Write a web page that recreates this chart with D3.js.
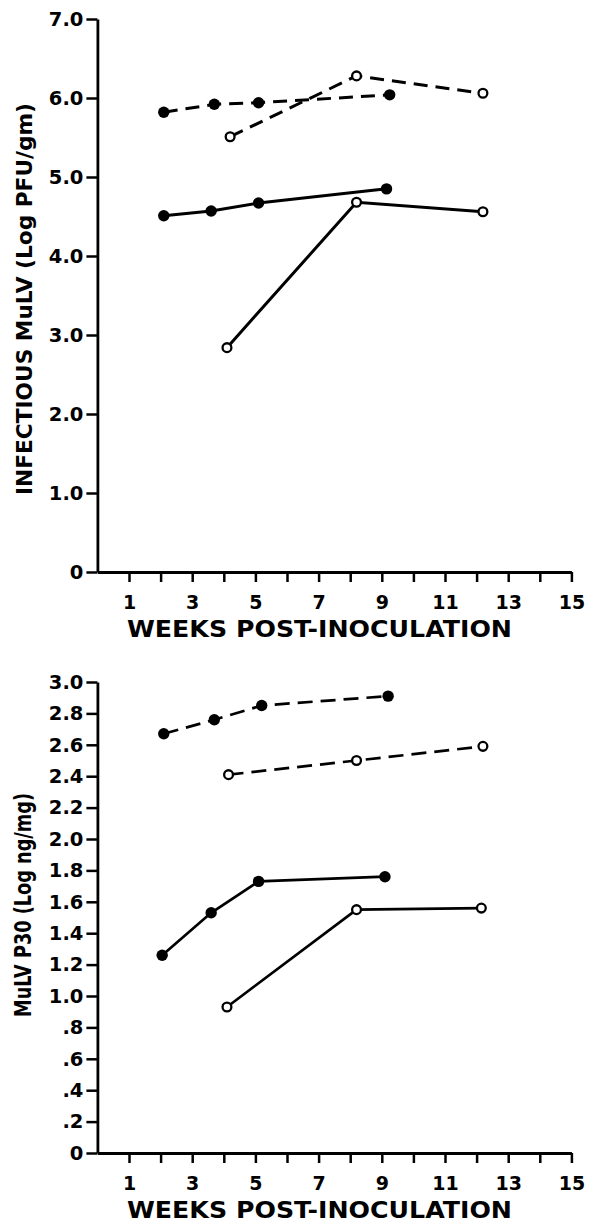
<!DOCTYPE html>
<html>
<head>
<meta charset="utf-8">
<script src="https://cdn.jsdelivr.net/npm/d3@7"></script>
<style>
  html, body { margin: 0; padding: 0; background: #fff; }
  svg { display: block; }
  text { font-family: "DejaVu Sans", "Liberation Sans", sans-serif; font-weight: bold; fill: #000; }
</style>
</head>
<body>
<svg id="chart" width="594" height="1226"></svg>
<script>
// ---------- DATA ----------
const xTickValues = [1,2,3,4,5,6,7,8,9,10,11,12,13,14,15];
const xTickLabels = ["1","","3","","5","","7","","9","","11","","13","","15"];
const xTitle = "WEEKS POST-INOCULATION";

// Top panel: infectious MuLV
const infTitle = "INFECTIOUS MuLV (Log PFU/gm)";
const infTickValues = [0,1,2,3,4,5,6,7];
const infTickLabels = ["0","1.0","2.0","3.0","4.0","5.0","6.0","7.0"];
const infFilledDashedWeeks = [2.1, 3.7, 5.1, 9.25];
const infFilledDashedVals  = [5.82, 5.92, 5.94, 6.04];
const infOpenDashedWeeks   = [4.2, 8.2, 12.2];
const infOpenDashedVals    = [5.51, 6.28, 6.06];
const infFilledSolidWeeks  = [2.1, 3.6, 5.1, 9.15];
const infFilledSolidVals   = [4.51, 4.57, 4.67, 4.85];
const infOpenSolidWeeks    = [4.1, 8.2, 12.2];
const infOpenSolidVals     = [2.84, 4.68, 4.56];

// Bottom panel: MuLV P30
const p30Title = "MuLV P30 (Log ng/mg)";
const p30TickValues = [0,0.2,0.4,0.6,0.8,1.0,1.2,1.4,1.6,1.8,2.0,2.2,2.4,2.6,2.8,3.0];
const p30TickLabels = ["0",".2",".4",".6",".8","1.0","1.2","1.4","1.6","1.8","2.0","2.2","2.4","2.6","2.8","3.0"];
const p30FilledDashedWeeks = [2.1, 3.7, 5.2, 9.2];
const p30FilledDashedVals  = [2.67, 2.76, 2.85, 2.91];
const p30OpenDashedWeeks   = [4.15, 8.2, 12.2];
const p30OpenDashedVals    = [2.41, 2.50, 2.59];
const p30FilledSolidWeeks  = [2.05, 3.6, 5.1, 9.1];
const p30FilledSolidVals   = [1.26, 1.53, 1.73, 1.76];
const p30OpenSolidWeeks    = [4.1, 8.2, 12.15];
const p30OpenSolidVals     = [0.93, 1.55, 1.56];

// ---------- DRAW ----------
const svg = d3.select("#chart");

function panel(cfg) {
  const x = d3.scaleLinear().domain([0, 15]).range([97.4, 571.4]);
  const y = d3.scaleLinear().domain(cfg.yDomain).range(cfg.yRange);
  const g = svg.append("g");

  // Y axis
  const ya = g.append("g").attr("transform", `translate(${x(0)},0)`)
    .call(d3.axisLeft(y).tickValues(cfg.tickValues)
      .tickFormat((d, i) => cfg.tickLabels[i]).tickSize(11).tickSizeOuter(0).tickPadding(3));
  ya.select(".domain").attr("stroke", "#000").attr("stroke-width", 2.8);
  ya.selectAll(".tick line").attr("stroke", "#000").attr("stroke-width", 2.5);
  ya.selectAll(".tick text").style("font-size", "19.5px").attr("fill", "#000");

  // X axis
  const xa = g.append("g").attr("transform", `translate(0,${y(0)})`)
    .call(d3.axisBottom(x).tickValues(xTickValues)
      .tickFormat((d, i) => xTickLabels[i]).tickSize(10).tickSizeOuter(0));
  xa.select(".domain").attr("stroke", "#000").attr("stroke-width", 2.8);
  xa.selectAll(".tick line").attr("stroke", "#000").attr("stroke-width", 2.5);
  xa.selectAll(".tick text").style("font-size", "19px").attr("fill", "#000")
    .attr("y", 37).attr("dy", null);

  // X title
  g.append("text").attr("x", 319.5).attr("y", y(0) + 65)
    .attr("text-anchor", "middle").style("font-size", "23px")
    .attr("textLength", 385).attr("lengthAdjust", "spacingAndGlyphs")
    .text(xTitle);

  // Y title
  g.append("text")
    .attr("transform", `translate(${cfg.titleX},${cfg.titleY}) rotate(-90)`)
    .attr("text-anchor", "middle").style("font-size", cfg.titleSize + "px")
    .attr("textLength", cfg.titleLen).attr("lengthAdjust", "spacingAndGlyphs")
    .text(cfg.title);

  const line = d3.line().x(d => x(d[0])).y(d => y(d[1]));
  cfg.series.forEach(s => {
    const pts = s.weeks.map((w, i) => [w, s.vals[i]]);
    g.append("path").datum(pts).attr("d", line)
      .attr("fill", "none").attr("stroke", "#000")
      .attr("stroke-width", cfg.lineWidth)
      .attr("stroke-dasharray", s.dashed ? cfg.dash : null);
  });
  cfg.series.forEach(s => {
    const pts = s.weeks.map((w, i) => [w, s.vals[i]]);
    g.selectAll(null).data(pts).enter().append("circle")
      .attr("cx", d => x(d[0])).attr("cy", d => y(d[1]))
      .attr("r", s.filled ? 5.7 : 4.4)
      .attr("fill", s.filled ? "#000" : "#fff")
      .attr("stroke", "#000").attr("stroke-width", s.filled ? 0 : 2.3);
  });
}

panel({
  yDomain: [0, 7], yRange: [572, 19],
  tickValues: infTickValues, tickLabels: infTickLabels,
  title: infTitle, titleX: 32, titleY: 299, titleLen: 392, titleSize: 22,
  lineWidth: 3, dash: "14,8",
  series: [
    { weeks: infFilledDashedWeeks, vals: infFilledDashedVals, filled: true,  dashed: true },
    { weeks: infOpenDashedWeeks,   vals: infOpenDashedVals,   filled: false, dashed: true },
    { weeks: infFilledSolidWeeks,  vals: infFilledSolidVals,  filled: true,  dashed: false },
    { weeks: infOpenSolidWeeks,    vals: infOpenSolidVals,    filled: false, dashed: false }
  ]
});

panel({
  yDomain: [0, 3], yRange: [1153, 682],
  tickValues: p30TickValues, tickLabels: p30TickLabels,
  title: p30Title, titleX: 31, titleY: 905, titleLen: 224, titleSize: 23,
  lineWidth: 2.7, dash: "15,8",
  series: [
    { weeks: p30FilledDashedWeeks, vals: p30FilledDashedVals, filled: true,  dashed: true },
    { weeks: p30OpenDashedWeeks,   vals: p30OpenDashedVals,   filled: false, dashed: true },
    { weeks: p30FilledSolidWeeks,  vals: p30FilledSolidVals,  filled: true,  dashed: false },
    { weeks: p30OpenSolidWeeks,    vals: p30OpenSolidVals,    filled: false, dashed: false }
  ]
});
</script>
</body>
</html>
